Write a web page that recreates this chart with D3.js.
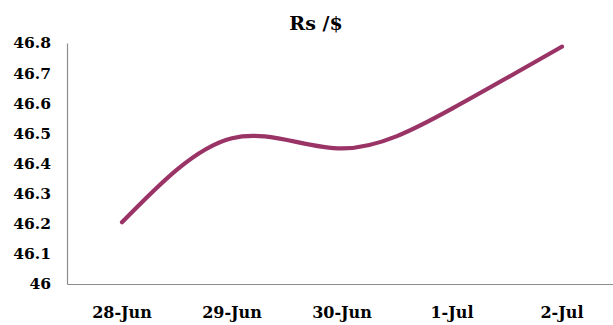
<!DOCTYPE html>
<html><head><meta charset="utf-8">
<script src="https://cdn.jsdelivr.net/npm/d3@7"></script>
<style>
html,body{margin:0;padding:0;background:#fff;}
svg{display:block;}
text{font-family:"DejaVu Serif","Liberation Serif",serif;font-weight:bold;fill:#000;}
</style></head>
<body>
<svg id="c" width="613" height="325"></svg>
<script>
const title = "Rs /$";
const categories = ["28-Jun", "29-Jun", "30-Jun", "1-Jul", "2-Jul"];
const values = [46.205, 46.484, 46.45, 46.582, 46.788];
const yTicks = [46, 46.1, 46.2, 46.3, 46.4, 46.5, 46.6, 46.7, 46.8];

const svg = d3.select("#c");
const mLeft = 67, mRight = 617, mTop = 43, mBottom = 284;

const x = d3.scaleBand().domain(categories).range([mLeft, mRight]);
const y = d3.scaleLinear().domain([46, 46.8]).range([mBottom, mTop]);

// title
svg.append("text").attr("x", 316).attr("y", 30).attr("text-anchor", "middle")
  .style("font-size", "19px").text(title);

// y axis
const yAxis = svg.append("g").attr("transform", `translate(${mLeft},0)`)
  .call(d3.axisLeft(y).tickValues(yTicks).tickSize(0).tickPadding(16)
    .tickFormat(d => String(+d.toFixed(1))));
yAxis.select(".domain").attr("stroke", "#8c8c8c").attr("stroke-width", 1.2);
yAxis.selectAll("text").style("font-size", "15.5px").attr("fill", "#000")
  .attr("font-family", null);

// x axis
const xAxis = svg.append("g").attr("transform", `translate(0,${mBottom})`)
  .call(d3.axisBottom(x).tickSize(0).tickPadding(23));
xAxis.select(".domain").attr("stroke", "#8c8c8c").attr("stroke-width", 1.2);
xAxis.selectAll("text").style("font-size", "16px").attr("fill", "#000")
  .attr("font-family", null);

// line
const line = d3.line()
  .x((d, i) => x(categories[i]) + x.bandwidth() / 2)
  .y(d => y(d))
  .curve(d3.curveNatural);
svg.append("path").datum(values)
  .attr("d", line)
  .attr("fill", "none")
  .attr("stroke", "#9a3366")
  .attr("stroke-width", 4.2)
  .attr("stroke-linecap", "round")
  .attr("stroke-linejoin", "round");
</script>
</body></html>
